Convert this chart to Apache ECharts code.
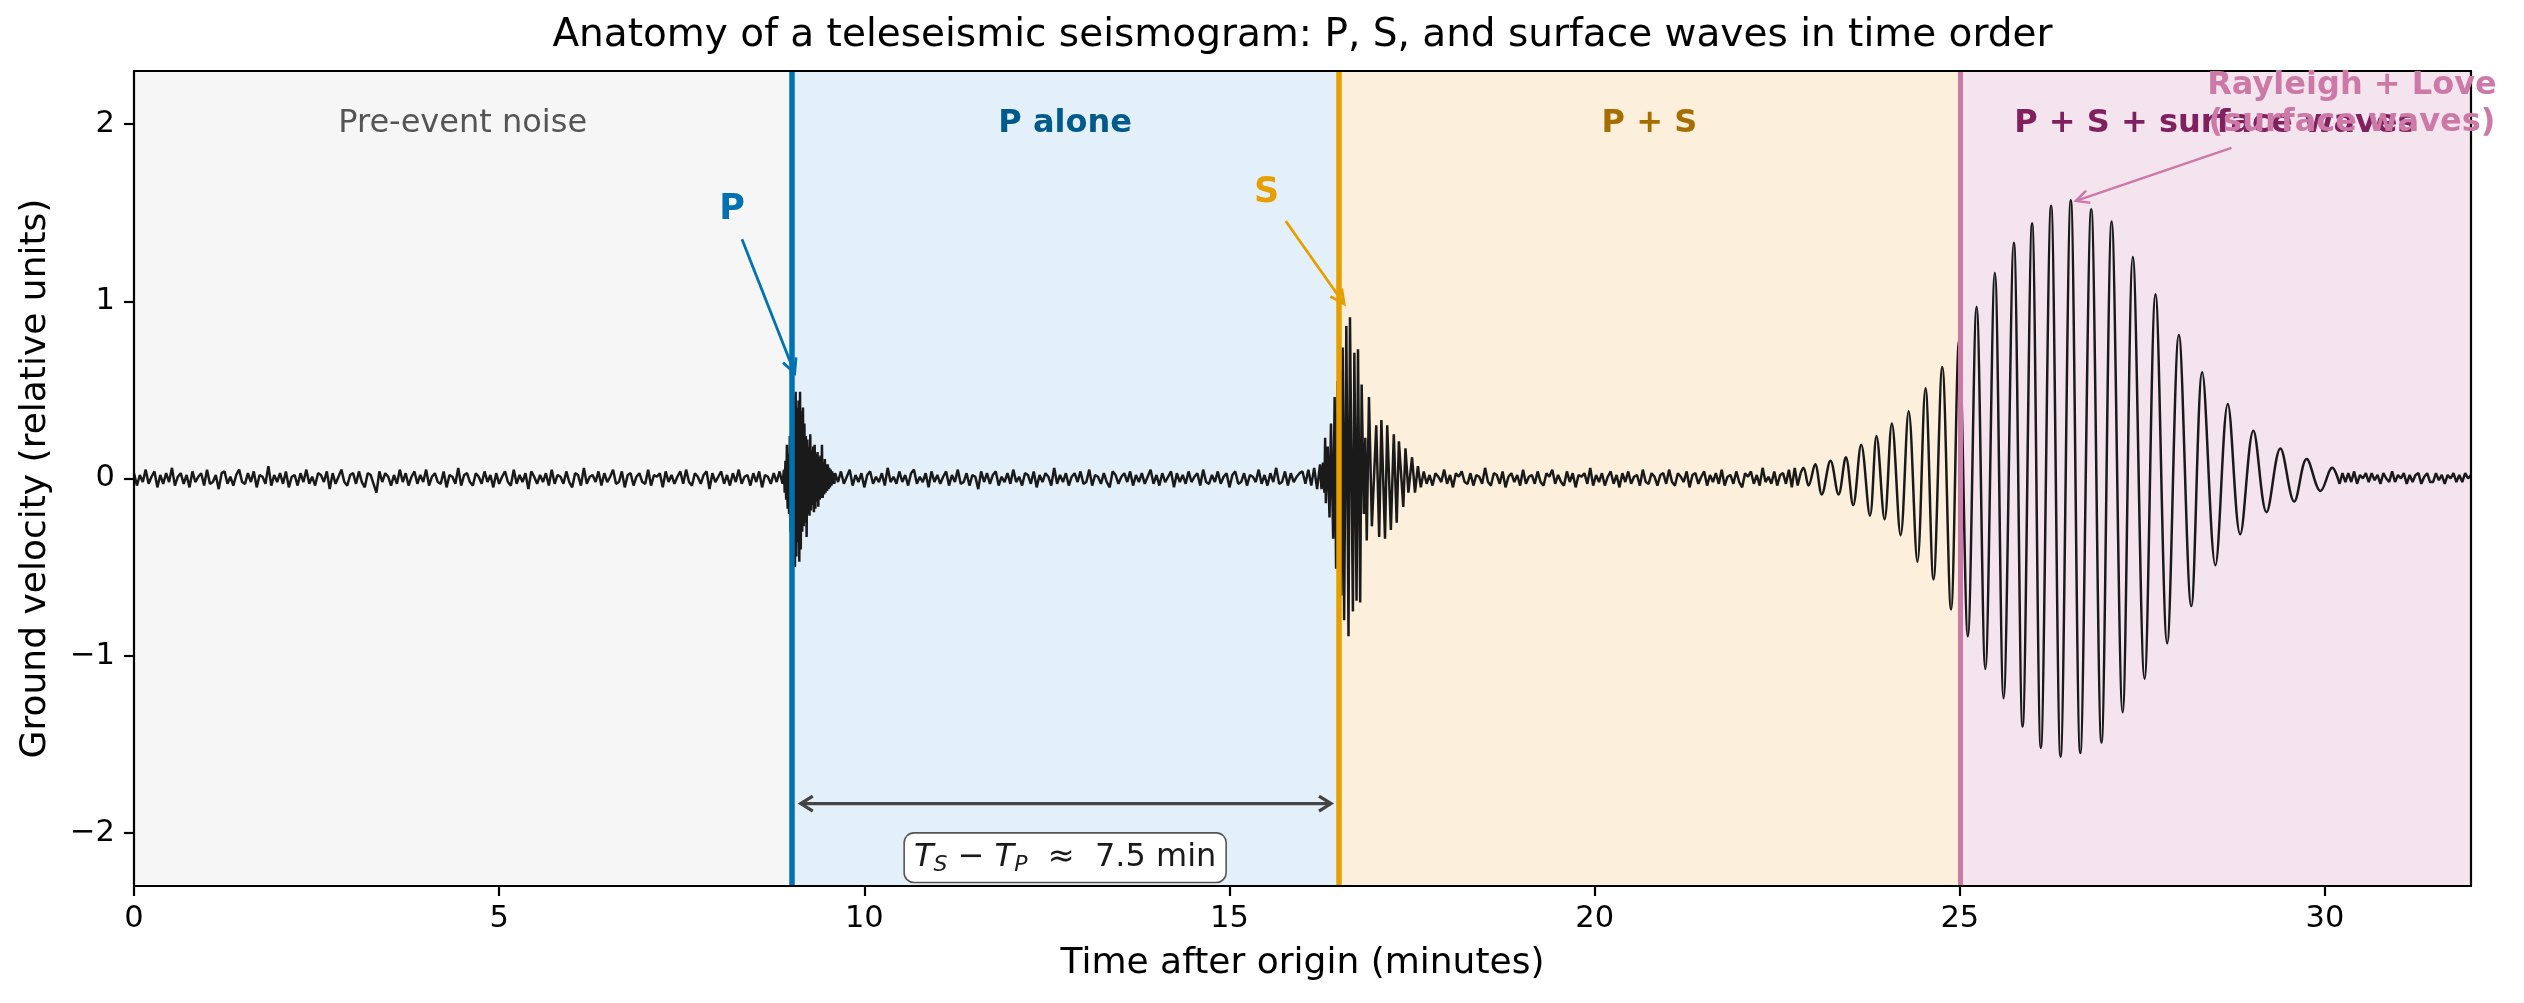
<!DOCTYPE html>
<html>
<head>
<meta charset="utf-8">
<script src="https://cdn.jsdelivr.net/npm/echarts@6/dist/echarts.min.js"></script>
<style>
html, body { margin: 0; padding: 0; background: #fff; }
#chart { width: 2524px; height: 1003px; }
</style>
</head>
<body>
<div id="chart"></div>
<script>
// phase picks, minutes after origin
const tP = 9.0, tS = 16.5, tSurf = 25.0, tEnd = 32;

// noise samples are in hundredths of a unit, one every 0.04 min
const noiseDt = 0.04;
const noiseBeforeStart = 0;
const noiseBefore = [
  3,-4,2,-2,5,-3,1,4,-5,2,-3,3,-2,6,-4,1,3,-3,2,-5,
  4,-2,1,3,-4,5,-3,-2,2,-6,3,4,-3,1,-4,2,5,-2,-3,3,
  -2,4,-5,2,1,-3,7,-4,2,-2,3,-3,4,-5,1,2,-4,3,-2,5,
  -3,1,-4,3,2,-2,4,-6,3,-3,1,5,-2,-4,2,3,-3,4,-2,-5,
  3,2,-3,-8,4,-2,3,1,-4,2,-3,5,-2,3,-4,1,4,-3,2,-2,
  5,-4,1,3,-2,-3,4,-5,2,1,-3,6,-4,2,3,-2,-4,3,1,-3,
  4,-2,2,-5,3,-3,1,4,-2,-4,5,-3,2,-2,3,-6,4,1,-3,2,
  -2,3,-4,5,-3,2,1,-3,4,-2,-5,3,2,-4,6,-3,1,2,-2,4,
  -4,3,-2,1,5,-3,-2,4,-5,2,3,-4,1,3,-2,-3,5,-4,2,1,
  3,-5,4,-2,2,-3,1,4,-3,5,-2,-4,3,1,-3,2,4,-6,3,-2,
  1,4,-3,2,-4,3,-2,5,-3,1,2,-4,3,-2,4,-5,2,1,-3,3,
  -2,4,-3
];

// P arrival burst, hundredths, one every 0.01 min
const pWaveStart = 8.90, pWaveDt = 0.01;
const pWave = [
  5,-8,10,-12,19,-17,14,-20,24,-30,
  36,-42,45,-48,47,-50,49,-44,40,-36,
  44,-47,49,-40,38,-30,40,-27,31,-25,
  24,-33,22,-20,18,-21,25,-18,16,-15,
  18,-19,19,-17,14,-13,15,-16,12,-12,
  13,-11,19,-11,9,-9,11,-8,8,-7,
  8,-6,6,-5,5,-4,4,-3,3,-3
];

const noisePSStart = 9.60;
const noisePS = [
  3,-2,4,-3,1,5,-4,2,-2,3,-5,2,4,-3,1,-2,3,-4,6,-2,
  1,-3,4,-2,2,-4,3,5,-3,1,-2,3,-5,4,-2,2,-3,1,4,-4,
  2,-2,5,-3,-2,3,-4,2,1,-6,4,-2,3,-3,2,4,-4,1,-2,3,
  -3,5,-2,1,-4,3,2,-3,4,-5,2,-2,3,1,-4,6,-3,2,-2,3,
  -4,1,3,-2,4,-3,-2,5,-4,2,1,-3,3,-2,-5,4,2,-3,1,3,
  -2,4,-4,2,-2,3,-3,1,5,-3,2,-4,3,-2,1,4,-5,3,-2,2,
  -3,4,-2,1,3,-4,5,-2,-3,2,-2,4,-3,1,3,-5,2,4,-3,-2,
  3,-4,2,1,-2,5,-3,2,-4,3,-2,6,-3,-2,4,-4,3,-2,1,3,
  4,-3,5,-4,6,-6,8
];

// S arrival: [minutes, velocity] at the peaks and troughs
const sWave = [
  [16.26,-0.06],[16.28,0.09],[16.30,-0.08],[16.31,0.23],[16.32,-0.14],
  [16.345,0.18],[16.37,-0.22],[16.39,0.31],[16.42,-0.34],[16.44,0.46],
  [16.46,-0.51],[16.48,0.55],[16.50,-0.62],[16.52,0.62],[16.53,-0.66],
  [16.55,0.74],[16.57,-0.80],[16.60,0.86],[16.63,-0.89],[16.65,0.91],
  [16.69,-0.75],[16.71,0.71],[16.74,-0.69],[16.76,0.73],[16.79,-0.70],
  [16.81,0.53],[16.84,-0.20],[16.86,0.23],[16.88,-0.35],[16.91,0.46],
  [16.95,-0.27],[17.01,0.30],[17.05,-0.33],[17.08,0.33],[17.13,-0.34],
  [17.16,0.30],[17.21,-0.29],[17.25,0.25],[17.29,-0.25],[17.32,0.21],
  [17.38,-0.16],[17.41,0.17],[17.45,-0.08],[17.50,0.12],[17.54,-0.08],
  [17.58,0.07],[17.62,-0.05]
];

const noiseMidStart = 17.66;
const noiseMid = [
  4,-3,2,-4,3,1,-2,5,-3,2,-5,3,1,4,-2,-3,3,-4,2,1,
  -3,6,-2,-4,3,2,-3,4,-5,1,3,-2,2,-4,5,-3,1,2,-3,4,
  -2,-4,3,1,5,-3,2,-2,-4,4,-2,3,-5,2,1,3,-3,6,-4,2,
  -2,3,-4,1,4,-3,2,-5,3,-2,4,-3,1,2,-4,5,-2,-3,3,1,
  -4,2,3,-3,5,-2,-4,3,1,-2,4,-5,2,3,-3,1,4,-4,2,-2,
  3,-3,5,-4,1,2,-3,4,-2,-5,3,1,4,-3,2,-4,6,-2,1,-3,
  4,-4,2,3,-3,5,-5,6,-4,3
];

// surface-wave train: [minutes, velocity] at the peaks and troughs
const surfaceWave = [
  [22.86,0.06],[22.93,-0.04],[23.02,0.08],[23.11,-0.09],[23.23,0.10],
  [23.34,-0.09],[23.44,0.12],[23.54,-0.15],[23.65,0.19],[23.77,-0.21],
  [23.86,0.24],[23.97,-0.23],[24.07,0.31],[24.19,-0.32],[24.30,0.38],
  [24.42,-0.47],[24.53,0.51],[24.64,-0.57],[24.76,0.63],[24.88,-0.74],
  [24.99,0.78],[25.11,-0.89],[25.23,0.97],[25.35,-1.075],[25.48,1.16],
  [25.60,-1.24],[25.74,1.33],[25.86,-1.40],[25.99,1.44],[26.11,-1.52],
  [26.25,1.54],[26.38,-1.57],[26.52,1.57],[26.65,-1.55],[26.80,1.52],
  [26.94,-1.49],[27.08,1.45],[27.23,-1.32],[27.37,1.25],[27.53,-1.13],
  [27.68,1.04],[27.84,-0.93],[28.00,0.81],[28.17,-0.72],[28.32,0.60],
  [28.50,-0.49],[28.67,0.42],[28.84,-0.315],[29.02,0.27],[29.20,-0.19],
  [29.39,0.17],[29.58,-0.13],[29.75,0.11],[29.94,-0.07],[30.10,0.06],
  [30.20,-0.03]
];

const noiseAfterStart = 30.24;
const noiseAfter = [
  3,-2,3,-2,4,-3,2,0,3,-2,3,-1,2,-3,3,0,-2,4,-2,2,
  0,3,-3,2,-2,2,3,-3,1,3,-2,-2,3,-1,2,-3,2,0,3,-2,
  2,-2,3,0,2
];

const xTicks = [0, 5, 10, 15, 20, 25, 30];
const yTicks = [-2, -1, 0, 1, 2];

// ---------------------------------------------------------------
const FONT = 'DejaVu Sans';

function uniform(start, dt, vals) {
  return vals.map((v, i) => [+(start + i * dt).toFixed(3), v / 100]);
}

const traceA = [].concat(
  uniform(noiseBeforeStart, noiseDt, noiseBefore),
  uniform(pWaveStart, pWaveDt, pWave),
  uniform(noisePSStart, noiseDt, noisePS),
  sWave,
  uniform(noiseMidStart, noiseDt, noiseMid)
);
const traceSurf = [traceA[traceA.length - 1]].concat(surfaceWave);
const traceB = [surfaceWave[surfaceWave.length - 1]].concat(uniform(noiseAfterStart, noiseDt, noiseAfter));

const minus = v => String(v).replace('-', '\u2212');
const lineStyle = { color: '#1a1a1a', width: 2.5 };

const chart = echarts.init(document.getElementById('chart'));

const option = {
  animation: false,
  backgroundColor: '#ffffff',
  textStyle: { fontFamily: FONT },
  grid: { left: 134, right: 53, top: 71, bottom: 117 },
  xAxis: [{
    type: 'value', min: 0, max: tEnd, z: 10,
    name: 'Time after origin (minutes)', nameLocation: 'middle', nameGap: 60,
    nameTextStyle: { fontSize: 36, color: '#000', fontFamily: FONT },
    axisLine: { show: true, onZero: false, lineStyle: { color: '#000', width: 2.2 } },
    axisTick: { show: true, length: 10, lineStyle: { color: '#000', width: 2.2 }, customValues: xTicks },
    axisLabel: { fontSize: 30.5, color: '#000', margin: 18, customValues: xTicks, fontFamily: FONT },
    splitLine: { show: false }
  }, {
    type: 'value', min: 0, max: tEnd, position: 'top', z: 10,
    axisLine: { show: true, onZero: false, lineStyle: { color: '#000', width: 2.2 } },
    axisTick: { show: false }, axisLabel: { show: false }, splitLine: { show: false }
  }],
  yAxis: [{
    type: 'value', min: -2.3, max: 2.3, z: 10,
    name: 'Ground velocity (relative units)', nameLocation: 'middle', nameGap: 80,
    nameTextStyle: { fontSize: 36, color: '#000', fontFamily: FONT },
    axisLine: { show: true, onZero: false, lineStyle: { color: '#000', width: 2.2 } },
    axisTick: { show: true, length: 10, lineStyle: { color: '#000', width: 2.2 }, customValues: yTicks },
    axisLabel: { fontSize: 30.5, color: '#000', margin: 19, customValues: yTicks, formatter: minus, fontFamily: FONT },
    splitLine: { show: false }
  }, {
    type: 'value', min: -2.3, max: 2.3, position: 'right', z: 10,
    axisLine: { show: true, onZero: false, lineStyle: { color: '#000', width: 2.2 } },
    axisTick: { show: false }, axisLabel: { show: false }, splitLine: { show: false }
  }],
  series: [{
    name: 'trace', type: 'line', data: traceA, showSymbol: false, symbol: 'none',
    sampling: null, lineStyle: lineStyle, silent: true, z: 2,
    markArea: {
      silent: true,
      label: { show: false },
      data: [
        [{ xAxis: 0, itemStyle: { color: '#f6f6f6' } }, { xAxis: tP }],
        [{ xAxis: tP, itemStyle: { color: '#e4f0f9' } }, { xAxis: tS }],
        [{ xAxis: tS, itemStyle: { color: '#fcf0dd' } }, { xAxis: tSurf }],
        [{ xAxis: tSurf, itemStyle: { color: '#f4e4ee' } }, { xAxis: tEnd }]
      ]
    },
    markLine: {
      silent: true, symbol: ['none', 'none'], label: { show: false },
      data: [
        { xAxis: tP, lineStyle: { color: '#0072B2', width: 5.5, type: 'solid' } },
        { xAxis: tS, lineStyle: { color: '#E69F00', width: 5.5, type: 'solid' } },
        { xAxis: tSurf, lineStyle: { color: '#CC79A7', width: 5, type: 'solid' } }
      ]
    }
  }, {
    name: 'surface', type: 'line', data: traceSurf, showSymbol: false, symbol: 'none',
    smooth: 0.36, sampling: null, lineStyle: lineStyle, silent: true, z: 2
  }, {
    name: 'coda', type: 'line', data: traceB, showSymbol: false, symbol: 'none',
    sampling: null, lineStyle: lineStyle, silent: true, z: 2
  }]
};

chart.setOption(option);

// annotations, placed through the chart's own axes
const px = (x, y) => chart.convertToPixel({ gridIndex: 0 }, [x, y]);

function arrow(from, to, color, width, headLen, headHalf, both) {
  const a = px(from[0], from[1]), b = px(to[0], to[1]);
  const els = [{
    type: 'line', z: 100,
    shape: { x1: a[0], y1: a[1], x2: b[0], y2: b[1] },
    style: { stroke: color, lineWidth: width }
  }];
  const head = (tip, tail) => {
    const dx = tip[0] - tail[0], dy = tip[1] - tail[1];
    const L = Math.hypot(dx, dy), ux = dx / L, uy = dy / L;
    const bx = tip[0] - ux * headLen, by = tip[1] - uy * headLen;
    return {
      type: 'polyline', z: 100,
      shape: { points: [[bx - uy * headHalf, by + ux * headHalf], tip, [bx + uy * headHalf, by - ux * headHalf]] },
      style: { stroke: color, lineWidth: width, fill: 'none' }
    };
  };
  els.push(head(b, a));
  if (both) els.push(head(a, b));
  return els;
}

function label(x, y, text, size, color, weight, extra) {
  const p = px(x, y);
  return {
    type: 'text', z: 100, x: p[0], y: p[1],
    style: Object.assign({
      text: text, fill: color, fontSize: size, fontWeight: weight || 'normal',
      fontFamily: FONT, align: 'center', verticalAlign: 'middle'
    }, extra || {})
  };
}

const plotCenter = px(tEnd / 2, 0)[0];
const ts = px(12.75, -2.14);

const graphic = [].concat(
  [{
    type: 'text', z: 100, x: plotCenter, y: 36,
    style: {
      text: 'Anatomy of a teleseismic seismogram: P, S, and surface waves in time order',
      fill: '#000', fontSize: 39, fontFamily: FONT, align: 'center', verticalAlign: 'middle'
    }
  }],
  label(4.5, 2.0, 'Pre-event noise', 32, '#555555'),
  label(12.75, 2.0, 'P alone', 32, '#005a8c', 'bold'),
  label(20.75, 2.0, 'P + S', 32, '#a66e00', 'bold'),
  label(28.5, 2.0, 'P + S + surface waves', 32, '#80205f', 'bold'),
  label(8.19, 1.515, 'P', 35, '#0072B2', 'bold'),
  arrow([8.325, 1.351], [9.046, 0.595], '#0072B2', 2.8, 14, 7),
  label(15.51, 1.614, 'S', 35, '#E69F00', 'bold'),
  arrow([15.77, 1.453], [16.57, 0.985], '#E69F00', 2.8, 14, 7),
  label(30.37, 2.11, 'Rayleigh + Love\n(surface waves)', 32, '#CC79A7', 'bold', { lineHeight: 37 }),
  arrow([28.72, 1.866], [26.59, 1.567], '#CC79A7', 2.5, 13, 6.5),
  arrow([9.13, -1.835], [16.39, -1.835], '#444444', 3.3, 12, 7.5, true),
  [{
    type: 'text', z: 100, x: ts[0], y: ts[1],
    style: {
      text: '{it|T}{sub|S}{op| \u2212 }{it|T}{sub|P}{tx|  \u2248  7.5 min}',
      fill: '#1a1a1a', fontSize: 32, fontFamily: FONT,
      align: 'center', verticalAlign: 'middle',
      backgroundColor: '#ffffff', borderColor: '#555555', borderWidth: 1.6,
      borderRadius: 9, padding: [5, 9, 5, 9],
      rich: {
        it: { fontSize: 32, fontStyle: 'italic', fontFamily: FONT, fill: '#1a1a1a' },
        sub: { fontSize: 22, fontStyle: 'italic', fontFamily: FONT, fill: '#1a1a1a', padding: [16, 0, 0, 0] },
        op: { fontSize: 32, fontFamily: FONT, fill: '#1a1a1a' },
        tx: { fontSize: 32, fontFamily: FONT, fill: '#1a1a1a' }
      }
    }
  }]
);

chart.setOption({ graphic: graphic });
</script>
</body>
</html>
